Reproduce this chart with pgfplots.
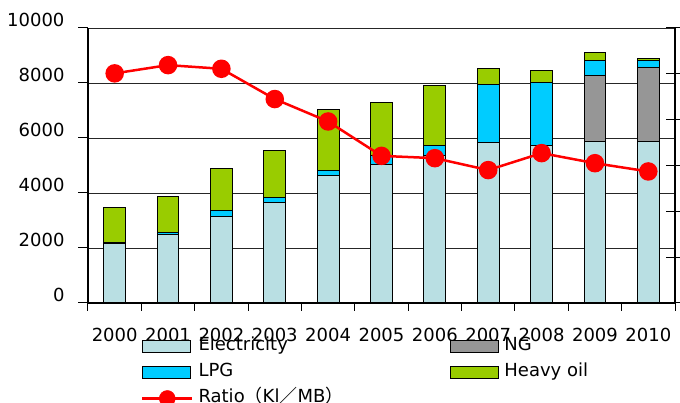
\documentclass[border=0pt]{standalone}
\usepackage{pgfplots}
\pgfplotsset{compat=1.18}
\usepackage{fontspec}
\setmainfont{DejaVu Sans}
\newfontfamily\cjk{Noto Sans CJK JP}
\definecolor{elec}{HTML}{B9DFE3}
\definecolor{lpg}{HTML}{00CCFF}
\definecolor{ng}{HTML}{969696}
\definecolor{heavy}{HTML}{99CC00}
\pgfplotsset{
  barleg/.style={legend image code/.code={\draw[##1,line width=1pt] (0pt,-6pt) rectangle (48pt,6pt);}},
}
\begin{document}
\begin{tikzpicture}[font=\fontsize{18pt}{21pt}\selectfont]
\begin{axis}[name=main, at={(0,0)}, anchor=south west, scale only axis,
  width=587pt, height=275pt,
  ybar stacked, bar width=0.41,
  xmin=-0.5, xmax=10.5, ymin=0, ymax=10000,
  axis x line*=bottom, axis y line*=left,
  xtick={0,...,10},
  xticklabels={2000,2001,2002,2003,2004,2005,2006,2007,2008,2009,2010},
  minor xtick={-0.5,0.5,...,10.5},
  ytick={0,2000,...,10000},
  ymajorgrids, grid style={black!85, line width=0.9pt},
  major x tick style={draw=none},
  tick align=outside, major tick length=10pt, minor tick length=8pt,
  tick style={black, line width=1pt},
  axis line style={black, line width=1.3pt, -},
  /pgf/number format/assume math mode=true,
  /pgf/number format/set thousands separator={},
  scaled y ticks=false,
  yticklabel style={xshift=-10pt, yshift=8pt},
  xticklabel style={yshift=-12pt},
  legend columns=2,
  legend cell align=left,
  legend style={draw=none, fill=none, at={(rel axis cs:0.09,-0.11)}, anchor=north west,
    inner sep=0pt,
    nodes={text height=13pt, text depth=5pt, inner ysep=4pt, inner xsep=5pt},
    /tikz/every even column/.append style={column sep=102pt}},
]
\addplot[fill=elec, draw=black, line width=1pt, barleg] coordinates {
(0,2150) (1,2480) (2,3150) (3,3650) (4,4640) (5,5020) (6,5380) (7,5830) (8,5730) (9,5890) (10,5890)};
\addlegendentry{Electricity}
\addplot[fill=ng, draw=black, line width=1pt, barleg] coordinates {
(0,0) (1,0) (2,0) (3,0) (4,0) (5,0) (6,0) (7,0) (8,0) (9,2380) (10,2690)};
\addlegendentry{NG}
\addplot[fill=lpg, draw=black, line width=1pt, barleg] coordinates {
(0,50) (1,100) (2,210) (3,190) (4,160) (5,330) (6,350) (7,2120) (8,2270) (9,560) (10,240)};
\addlegendentry{LPG}
\addplot[fill=heavy, draw=black, line width=1pt, barleg] coordinates {
(0,1270) (1,1280) (2,1540) (3,1690) (4,2240) (5,1940) (6,2170) (7,570) (8,470) (9,280) (10,80)};
\addlegendentry{Heavy oil}
\addlegendimage{legend image code/.code={\draw[red, line width=2.5pt] (0pt,0pt) -- (50pt,0pt); \fill[red] (25pt,0pt) circle (8pt);}}
\addlegendentry{Ratio{\cjk （}Kl{\cjk ／}MB{\cjk ）}}
\end{axis}
\begin{axis}[at={(0,0)}, anchor=south west, scale only axis,
  width=587pt, height=275pt,
  xmin=-0.5, xmax=10.5, ymin=0, ymax=6,
  axis y line*=right, axis x line=none,
  ytick={0,...,6}, yticklabels={},
  tick align=center, major tick length=18pt,
  tick style={black, line width=1pt},
  axis line style={black, line width=1.3pt, -},
]
\addplot[red, line width=2.5pt, mark=*, mark size=8pt, mark options={fill=red, draw=red}] coordinates {
(0,5.01) (1,5.19) (2,5.11) (3,4.45) (4,3.96) (5,3.21) (6,3.16) (7,2.90) (8,3.27) (9,3.05) (10,2.87)};
\end{axis}
\pgfresetboundingbox
\path[use as bounding box] (-88pt,-100pt) rectangle (592pt,303pt);
\end{tikzpicture}
\end{document}
